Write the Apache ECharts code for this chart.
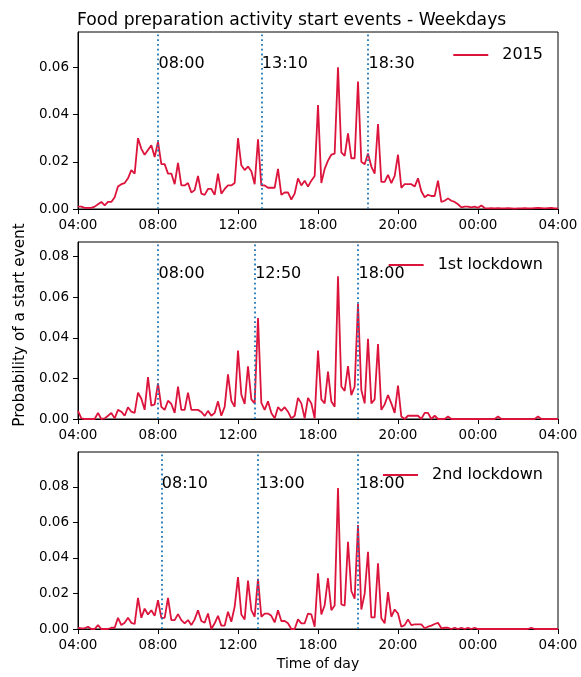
<!DOCTYPE html>
<html>
<head>
<meta charset="utf-8">
<script src="https://cdn.jsdelivr.net/npm/echarts@6/dist/echarts.min.js"></script>
<style>
html,body{margin:0;padding:0;background:#fff}
#chart{width:581px;height:677px}
</style>
</head>
<body>
<div id="chart"></div>
<script>
// x ticks as printed on the original figure
var tickLabels = ['04:00', '08:00', '12:00', '18:00', '20:00', '00:00', '04:00'];
var seriesNames = ['2015', '1st lockdown', '2nd lockdown'];

// probability per 10 minute slot, 04:00 .. 04:00
var values2015 = [
  0.001,0.001,0.0005,0.0005,0.0005,0.001,0.002,0.003,0.0015,0.003,0.003,0.005,
  0.0095,0.0105,0.011,0.013,0.0165,0.015,0.030,0.0255,0.023,0.025,0.027,0.022,
  0.0285,0.019,0.019,0.015,0.015,0.0105,0.0195,0.010,0.010,0.011,0.007,0.008,
  0.014,0.0065,0.006,0.0085,0.0085,0.006,0.015,0.0065,0.0085,0.010,0.010,0.011,
  0.030,0.0185,0.0165,0.018,0.016,0.0105,0.0295,0.010,0.010,0.009,0.009,0.009,
  0.017,0.006,0.007,0.007,0.004,0.0065,0.013,0.010,0.012,0.0095,0.012,0.014,
  0.044,0.011,0.017,0.0205,0.023,0.0235,0.060,0.024,0.0225,0.032,0.0215,0.0215,
  0.054,0.020,0.019,0.0235,0.018,0.015,0.036,0.0115,0.0115,0.0145,0.011,0.014,
  0.023,0.009,0.0105,0.0105,0.0105,0.0095,0.013,0.0075,0.005,0.006,0.0055,0.0055,
  0.012,0.003,0.0035,0.0045,0.0035,0.003,0.002,0.0007,0.001,0.001,0.0007,0.001,
  0.0005,0.0015,0.0004,0.0003,0.0004,0.0003,0.0004,0.0003,0.0003,0.0004,0.0003,0.0002,
  0.0003,0.0003,0.0004,0.0003,0.0003,0.0004,0.0005,0.0004,0.0003,0.0004,0.0005,0.0003,
  0.0003
];
var valuesLock1 = [
  0.004,0.0003,0,0,0,0,0.003,0,0.0003,0.0016,0.003,0.0003,
  0.0045,0.0036,0.0016,0.0058,0.0036,0.003,0.013,0.010,0.0045,0.0206,0.0066,0.0072,
  0.0176,0.006,0.0045,0.009,0.0074,0.003,0.016,0.0045,0.0045,0.013,0.0045,0.0045,
  0.0045,0.0035,0.0015,0.004,0.0016,0.003,0.0087,0.0016,0.006,0.022,0.009,0.006,
  0.0337,0.012,0.0074,0.026,0.0097,0.0077,0.0497,0.008,0.0045,0.0087,0.003,0.0003,
  0.0058,0.004,0.0058,0.0036,0.0003,0.0016,0.0104,0.0077,0.0003,0.0104,0.0077,0.0003,
  0.0337,0.0097,0.0077,0.0234,0.0086,0.006,0.0703,0.016,0.0138,0.026,0.0118,0.016,
  0.0568,0.0143,0.0077,0.0395,0.0077,0.0097,0.0369,0.0045,0.0072,0.0118,0.0077,0.003,
  0.0165,0.0012,0,0.0016,0.0016,0.0016,0.0016,0,0.003,0.003,0,0.0016,
  0,0,0,0.0012,0,0,0,0,0,0,0,0,
  0,0,0,0,0,0,0.0012,0,0,0,0,0,
  0,0,0,0,0,0,0.0012,0,0,0,0,0,
  0
];
var valuesLock2 = [
  0.0007,0.0004,0.0004,0.0013,0,0,0.0022,0,0,0,0.0007,0.0007,
  0.0063,0.0022,0.0035,0.0063,0.0035,0.0028,0.0175,0.0063,0.0115,0.0082,0.0106,0.0074,
  0.0162,0.0063,0.0063,0.0175,0.005,0.005,0.0084,0.005,0.0032,0.005,0.0022,0.0054,
  0.0106,0.0045,0.0035,0.0087,0,0.0032,0.0074,0.0019,0.0019,0.0097,0.0041,0.0125,
  0.0292,0.0082,0.0054,0.0273,0.0106,0.0069,0.0283,0.0069,0.0087,0.0087,0.0074,0.0037,
  0.0106,0.0045,0.0045,0.0032,0,0,0.0054,0.0032,0.0032,0.0087,0.0082,0.0013,
  0.0314,0.0082,0.0134,0.0286,0.0106,0.0132,0.0794,0.0138,0.0132,0.0491,0.0214,0.0171,
  0.0586,0.011,0.0199,0.0435,0.0065,0.0065,0.037,0.006,0.0032,0.0208,0.0069,0.011,
  0.0087,0.0013,0.0022,0.0054,0.0022,0.0026,0.0026,0.0026,0.0004,0.0013,0.0019,0.0028,
  0.0035,0.0004,0.0007,0.0007,0,0.0007,0,0.0007,0,0.0007,0,0.0007,
  0,0,0,0,0,0,0,0,0,0,0,0,
  0,0,0,0,0.0007,0,0,0,0,0,0,0,
  0
];
// peak times marked with dotted lines
var peaks2015 = ['08:00', '13:10', '18:30'];
var peaksLock1 = ['08:00', '12:50', '18:00'];
var peaksLock2 = ['08:10', '13:00', '18:00'];
var yMaxes = [0.075, 0.0872, 0.0997];

var allValues = [values2015, valuesLock1, valuesLock2];
var allPeaks = [peaks2015, peaksLock1, peaksLock2];
var tops = [32, 242, 452];
var font = 'DejaVu Sans';

// minutes since 04:00
function toMinutes(t) {
  var p = t.split(':');
  var m = (+p[0]) * 60 + (+p[1]) - 240;
  if (m < 0) m += 1440;
  return m;
}

var chart = echarts.init(document.getElementById('chart'));

var grid = [], xAxis = [], yAxis = [], series = [], legend = [];
for (var k = 0; k < 3; k++) {
  grid.push({
    left: 78, right: 23, top: tops[k], height: 177,
    show: true, borderColor: '#000', borderWidth: 1
  });
  xAxis.push({
    type: 'value', gridIndex: k, min: 0, max: 1440, interval: 240,
    splitLine: {show: false},
    axisLine: {show: true, onZero: false, lineStyle: {color: '#000', width: 1}},
    axisTick: {show: true, length: 5, lineStyle: {color: '#000'}},
    axisLabel: {
      color: '#000', fontSize: 13.5, fontFamily: font, margin: 9,
      formatter: function (v) { return tickLabels[Math.round(v / 240)]; }
    },
    name: k == 2 ? 'Time of day' : '',
    nameLocation: 'middle', nameGap: 28,
    nameTextStyle: {color: '#000', fontSize: 14, fontFamily: font}
  });
  yAxis.push({
    type: 'value', gridIndex: k, min: 0, max: yMaxes[k], interval: 0.02,
    splitLine: {show: false},
    axisLine: {show: true, lineStyle: {color: '#000', width: 1}},
    axisTick: {show: true, length: 5, lineStyle: {color: '#000'}},
    axisLabel: {
      color: '#000', fontSize: 13.5, fontFamily: font, margin: 9, showMaxLabel: false,
      formatter: function (v) { return v.toFixed(2); }
    }
  });

  var data = allValues[k].map(function (v, i) { return [i * 10, v]; });
  var labelY = yMaxes[k] * 0.82;
  series.push({
    name: seriesNames[k],
    type: 'line',
    xAxisIndex: k, yAxisIndex: k,
    data: data,
    symbol: 'none',
    lineStyle: {color: '#dc143c', width: 1.8},
    itemStyle: {color: '#dc143c'},
    markLine: {
      silent: true, symbol: 'none',
      label: {show: false},
      lineStyle: {color: '#1f77b4', width: 1.8, type: [1.8, 3]},
      data: allPeaks[k].map(function (t) { return {xAxis: toMinutes(t)}; })
    },
    markPoint: {
      silent: true,
      symbol: 'circle',
      symbolSize: 1,
      itemStyle: {color: 'rgba(0,0,0,0)'},
      data: allPeaks[k].map(function (t) {
        return {
          coord: [toMinutes(t), labelY],
          label: {
            show: true, formatter: t, position: 'right', distance: 0,
            color: '#000', fontSize: 16, fontFamily: font
          }
        };
      })
    }
  });
  legend.push({
    data: [seriesNames[k]],
    right: 33, top: tops[k] + 10,
    itemWidth: 35, itemHeight: 14,
    icon: 'path://M0,6 L35,6 L35,8 L0,8 Z',
    textStyle: {color: '#000', fontSize: 16, fontFamily: font, padding: [0, 0, 0, 9]}
  });
}

var option = {
  animation: false,
  title: {
    text: 'Food preparation activity start events - Weekdays',
    left: 72, top: 7,
    textStyle: {color: '#000', fontSize: 17.2, fontWeight: 'normal', fontFamily: font}
  },
  graphic: [{
    type: 'text', x: 20, y: 325, rotation: Math.PI / 2,
    style: {
      text: 'Probability of a start event', fill: '#000',
      font: '15.3px "DejaVu Sans"', align: 'center', verticalAlign: 'middle'
    }
  }],
  legend: legend,
  grid: grid,
  xAxis: xAxis,
  yAxis: yAxis,
  series: series
};
chart.setOption(option);
</script>
</body>
</html>
